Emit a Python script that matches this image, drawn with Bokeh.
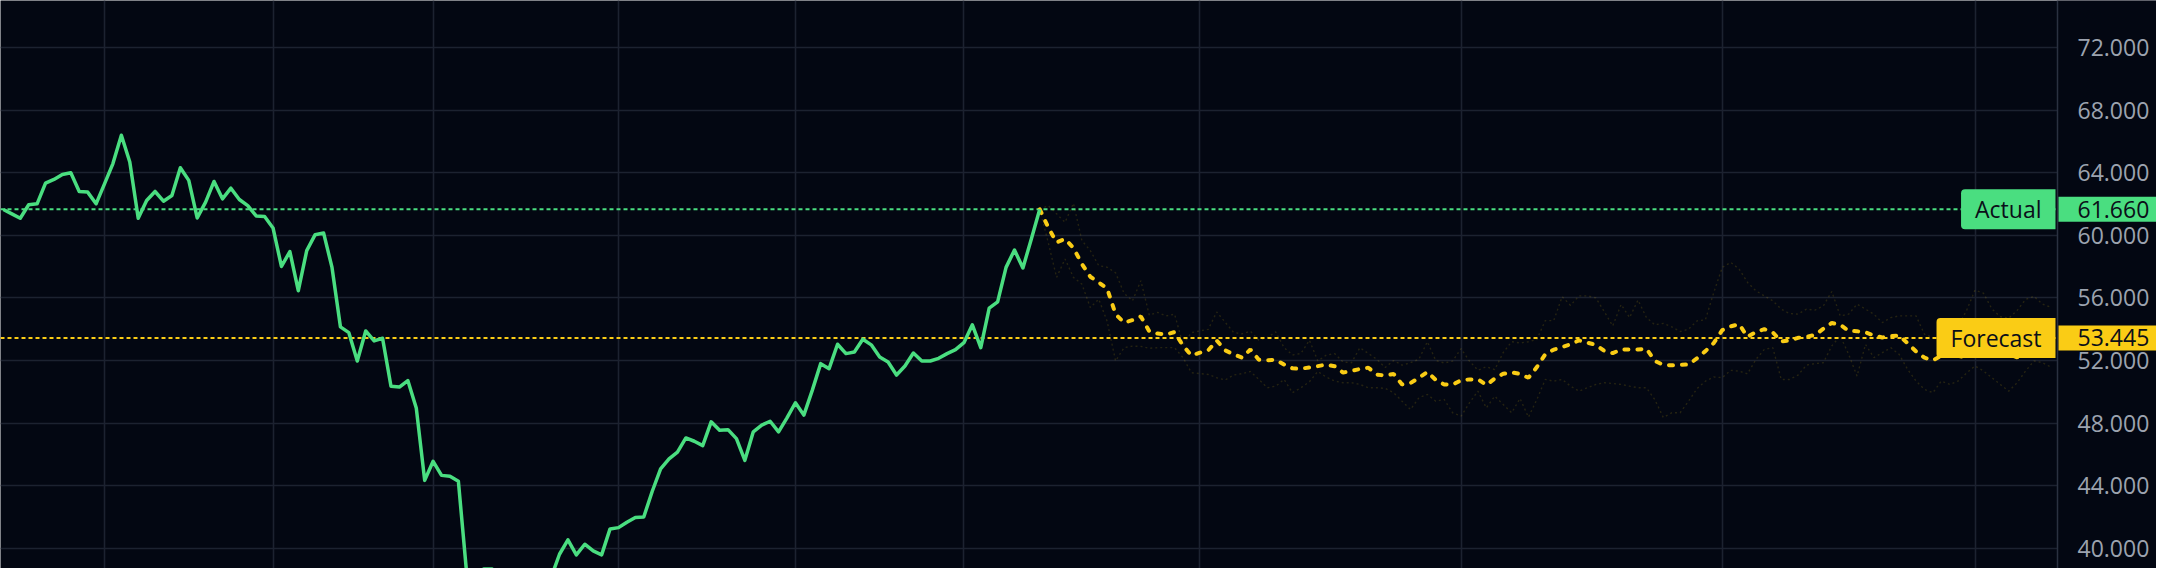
from bokeh.plotting import figure
from bokeh.models import Range1d, FixedTicker, Span, Label, PrintfTickFormatter, BoxAnnotation
from bokeh.embed import file_html
from bokeh.resources import INLINE

# ---------------- data ----------------
actual = [
    61.65, 61.37, 61.09, 61.95, 62.01, 63.33, 63.57, 63.89, 64.00, 62.80,
    62.76, 62.01, 63.29, 64.58, 66.39, 64.68, 61.09, 62.22, 62.80, 62.18,
    62.54, 64.32, 63.51, 61.11, 62.12, 63.44, 62.33, 63.01, 62.29, 61.90,
    61.24, 61.20, 60.47, 58.01, 58.96, 56.46, 59.02, 60.04, 60.15, 57.95,
    54.15, 53.78, 51.97, 53.89, 53.25, 53.42, 50.35, 50.30, 50.72, 48.97,
    44.34, 45.56, 44.66, 44.60, 44.28, 38.29, 38.12, 38.68, 38.68, 36.60,
    36.90, 37.30, 38.08, 37.93, 38.19, 38.13, 39.62, 40.54, 39.58, 40.26,
    39.83, 39.58, 41.24, 41.32, 41.67, 41.97, 42.00, 43.63, 45.07, 45.71,
    46.15, 47.05, 46.84, 46.56, 48.08, 47.54, 47.58, 47.01, 45.62, 47.44,
    47.87, 48.12, 47.44, 48.33, 49.30, 48.51, 50.09, 51.80, 51.48, 53.04,
    52.44, 52.54, 53.36, 53.00, 52.22, 51.90, 51.07, 51.65, 52.48, 51.97,
    51.97, 52.14, 52.44, 52.69, 53.14, 54.28, 52.82, 55.35, 55.75, 57.95,
    59.06, 57.91, 59.77, 61.66,
]

forecast = [
    61.66, 60.51, 59.55, 59.77, 59.19, 58.17, 57.35, 56.99, 56.60, 54.96,
    54.42, 54.58, 54.82, 53.86, 53.72, 53.66, 53.82, 52.95, 52.32, 52.50,
    52.65, 53.28, 52.65, 52.40, 52.18, 52.70, 52.05, 52.02, 52.05, 51.74,
    51.50, 51.47, 51.56, 51.64, 51.74, 51.63, 51.23, 51.33, 51.46, 51.54,
    51.10, 51.04, 51.14, 50.47, 50.56, 50.90, 51.27, 50.76, 50.47, 50.45,
    50.74, 50.79, 50.80, 50.43, 50.85, 51.15, 51.25, 51.14, 50.90, 51.58,
    52.40, 52.69, 52.86, 53.04, 53.29, 53.14, 53.00, 52.61, 52.47, 52.71,
    52.70, 52.70, 52.76, 51.97, 51.72, 51.69, 51.73, 51.74, 52.14, 52.60,
    53.12, 53.94, 54.18, 54.32, 53.51, 53.82, 54.00, 53.80, 53.22, 53.28,
    53.45, 53.52, 53.63, 54.03, 54.40, 54.28, 53.90, 53.87, 53.80, 53.60,
    53.47, 53.55, 53.60, 53.10, 52.58, 52.18, 52.01, 52.30, 52.60, 52.30,
    52.20, 52.60, 53.00, 53.20, 52.80, 52.40, 52.20, 52.60, 53.00, 53.30,
    53.445,
]

upper = [
    61.66, 61.90, 61.37, 60.83, 62.05, 59.66, 59.02, 58.06, 57.96, 57.60,
    56.30, 55.81, 57.10, 54.90, 55.07, 54.85, 54.96, 53.03, 53.78, 53.89,
    53.99, 55.10, 54.45, 53.80, 53.70, 53.87, 53.30, 53.46, 53.83, 52.82,
    52.35, 52.45, 53.30, 51.97, 52.34, 52.44, 51.90, 51.86, 52.82, 52.45,
    52.08, 51.55, 52.00, 51.70, 51.86, 52.08, 53.20, 52.00, 51.84, 51.96,
    52.76, 51.96, 51.38, 51.60, 51.42, 52.50, 53.20, 53.12, 53.20, 53.35,
    54.55, 54.55, 56.08, 55.52, 56.13, 56.13, 56.00, 55.12, 54.21, 55.58,
    54.74, 55.86, 54.75, 54.28, 54.37, 54.15, 53.85, 54.00, 54.53, 54.60,
    56.35, 57.95, 58.27, 57.84, 56.99, 56.45, 56.13, 55.81, 55.28, 55.00,
    54.96, 55.28, 55.22, 55.49, 56.41, 54.85, 54.96, 55.60, 55.28, 54.96,
    54.42, 54.74, 54.85, 54.85, 54.85, 53.68, 53.46, 53.25, 53.50, 54.20,
    55.20, 56.50, 56.30, 55.30, 54.80, 54.70, 55.20, 55.90, 56.10, 55.60,
    55.40,
]

lower = [
    61.66, 59.55, 57.31, 58.49, 57.31, 56.88, 55.38, 55.92, 54.50, 51.97,
    52.82, 52.92, 52.90, 52.78, 52.82, 52.82, 52.82, 52.18, 51.22, 51.16,
    51.11, 50.90, 50.75, 51.07, 51.16, 51.30, 50.79, 50.26, 50.36, 50.79,
    49.94, 50.26, 50.64, 51.30, 50.94, 50.69, 50.58, 50.58, 50.47, 50.26,
    50.26, 50.22, 49.94, 49.40, 48.87, 49.62, 49.83, 49.40, 49.51, 48.66,
    48.44, 49.30, 50.04, 48.97, 49.72, 49.19, 48.66, 49.57, 48.38, 49.51,
    50.79, 50.68, 50.79, 50.36, 50.04, 50.26, 50.47, 50.58, 50.53, 50.47,
    50.36, 50.26, 50.26, 49.50, 48.36, 48.66, 48.66, 49.40, 50.20, 50.68,
    50.95, 50.90, 51.37, 51.32, 51.15, 52.07, 52.71, 52.82, 50.79, 50.79,
    51.07, 51.71, 51.80, 51.86, 52.93, 53.57, 52.40, 51.00, 53.03, 52.18,
    52.50, 52.82, 52.39, 51.43, 50.69, 50.15, 49.94, 50.69, 50.47, 50.69,
    51.20, 51.65, 51.33, 50.90, 50.47, 50.04, 50.58, 51.33, 51.97, 51.86,
    51.58,
]

price_ticks = [40, 44, 48, 52, 56, 60, 64, 68, 72]
time_grid_ticks = [12, 32, 51, 73, 94, 114, 142, 173, 204, 234]

# ---------------- styling / layout ----------------
BG = "#030712"
GRID = "#1c2230"
SEP = "#2a3140"
AXIS_TEXT = "#9ca3af"
GREEN = "#4ade80"
YELLOW = "#facc15"
DARK_TEXT = "#0b0f19"
FONT = "Open Sans"

W, H = 2156, 568
PX_PER_BAR = 8.4257           # horizontal bar spacing (px)
X_OFF = 2.9                   # px position of bar 0
PX_PER_UNIT = 15.65           # vertical px per price unit
Y_TOP = 72 + 47.0 / PX_PER_UNIT
SEP_PX = 2057                 # price-scale separator (px from left)
LABEL_LEFT = 2077             # left edge of price labels (px from left)

X0 = -X_OFF / PX_PER_BAR
X_END = X0 + W / PX_PER_BAR
X_SEP = X0 + SEP_PX / PX_PER_BAR
Y_BOTTOM = Y_TOP - H / PX_PER_UNIT

x_actual = list(range(len(actual)))
start = len(actual) - 1
x_fc = list(range(start, start + len(forecast)))

p = figure(width=W, height=H, output_backend="svg", toolbar_location=None,
           x_range=Range1d(X0, X_END), y_range=Range1d(Y_BOTTOM, Y_TOP),
           x_axis_location=None, y_axis_location="right",
           background_fill_color=BG, border_fill_color=BG,
           min_border_left=0, min_border_top=0, min_border_bottom=0,
           min_border_right=0)
p.outline_line_color = None

p.xgrid.ticker = FixedTicker(ticks=time_grid_ticks)
p.ygrid.ticker = FixedTicker(ticks=price_ticks)
for g in (p.xgrid, p.ygrid):
    g.grid_line_color = GRID
    g.grid_line_width = 1.6

# price scale: real axis, labels drawn back over the right strip of the canvas
ax = p.yaxis[0]
ax.ticker = FixedTicker(ticks=price_ticks)
ax.formatter = PrintfTickFormatter(format="%.3f")
ax.axis_line_color = None
ax.major_tick_line_color = None
ax.minor_tick_line_color = None
ax.major_tick_out = 0
ax.major_tick_in = 0
ax.major_label_standoff = LABEL_LEFT - W
ax.major_label_text_font = FONT
ax.major_label_text_font_size = "23px"
ax.major_label_text_color = AXIS_TEXT

# last-value dotted lines
p.add_layout(Span(location=actual[-1], dimension="width", line_color=GREEN,
                  line_width=2, line_dash="4 3", level="underlay"))
p.add_layout(Span(location=forecast[-1], dimension="width", line_color=YELLOW,
                  line_width=2, line_dash="4 3", level="underlay"))

# price-scale strip background + separator line
p.add_layout(BoxAnnotation(left=X_SEP, fill_color=BG, fill_alpha=1.0,
                           line_color=None, level="underlay"))
p.add_layout(Span(location=X_SEP, dimension="height", line_color=SEP,
                  line_width=1.5, level="underlay"))

# forecast band bounds (faint dotted)
p.line(x_fc, upper, line_color=YELLOW, line_alpha=0.14, line_width=1.4, line_dash="2 3")
p.line(x_fc, lower, line_color=YELLOW, line_alpha=0.14, line_width=1.4, line_dash="2 3")

# forecast (dashed) and actual (solid)
p.line(x_fc, forecast, line_color=YELLOW, line_width=4, line_dash="4 9", line_cap="round")
p.line(x_actual, actual, line_color=GREEN, line_width=3.5, line_join="round")

# price tags
def tag(text, y, color, align, x):
    if align == "right":
        pad = dict(left=14, right=14, top=4, bottom=4)
        rad = dict(top_left=4, top_right=0, bottom_right=0, bottom_left=4)
    else:
        pad = dict(left=19, right=14, top=4, bottom=4)
        rad = dict(top_left=0, top_right=4, bottom_right=4, bottom_left=0)
    p.add_layout(Label(x=x, y=y, x_units="screen", y_units="data", text=text,
                       text_align=align, text_baseline="middle",
                       text_font=FONT, text_font_size="23px", text_color=DARK_TEXT,
                       background_fill_color=color, background_fill_alpha=1.0,
                       padding=pad, border_radius=rad))

tag("Actual", actual[-1], GREEN, "right", SEP_PX - 2)
tag("%.3f" % actual[-1], actual[-1], GREEN, "left", SEP_PX + 1)
tag("Forecast", forecast[-1], YELLOW, "right", SEP_PX - 2)
tag("%.3f" % forecast[-1], forecast[-1], YELLOW, "left", SEP_PX + 1)

open("out.html", "w").write(file_html(p, INLINE))
